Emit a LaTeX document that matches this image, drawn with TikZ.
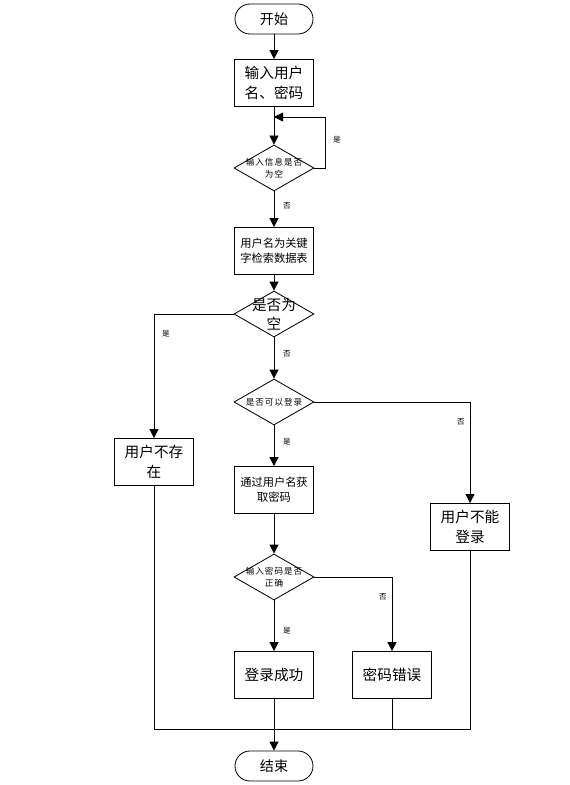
\documentclass[tikz,border=0pt]{standalone}
\usepackage{fontspec}
\setmainfont{Noto Sans CJK SC}
\usetikzlibrary{positioning,shapes,arrows.meta,calc}

\tikzset{
    startstop/.style={draw,rectangle,rounded corners=0.45cm,minimum width=2.34cm,minimum height=0.9cm,font=\fontsize{12}{14}\selectfont},
    process/.style={draw,rectangle,minimum width=2.37cm,minimum height=1.41cm,inner sep=1pt,align=center,font=\fontsize{12.5}{17}\selectfont},
    decision/.style={draw,diamond,minimum width=2.4cm,minimum height=1.38cm,inner sep=0pt},
    smalltext/.style={align=center,font=\fontsize{7.3}{10}\selectfont\addfontfeatures{LetterSpace=12}},
    yesno/.style={font=\fontsize{6.5}{7}\selectfont},
    arr/.style={-{Triangle[length=2.7mm,width=2.7mm]}},
}

\begin{document}
\begin{tikzpicture}[x=0.03cm,y=-0.03cm,line width=0.7pt]
    \useasboundingbox (0,0) rectangle (570,785);
    % main column
    \node[startstop] (start) at (274,19) {开始};
    \node[process] (input) at (274,83) {输入用户\\名、密码};
    \node[decision,label={[smalltext]center:输入信息是否\\为空}] (empty1) at (274,168) {};
    \node[process,font=\fontsize{9.6}{13}\selectfont] (search) at (274,251) {用户名为关键\\字检索数据表};
    \node[decision,label={[align=center,font=\fontsize{12.5}{16}\selectfont]center:是否为\\空}] (empty2) at (274,314) {};
    \node[decision,label={[smalltext]center:是否可以登录}] (canlogin) at (274,402) {};
    \node[process,font=\fontsize{9.6}{13}\selectfont] (getpw) at (274,490) {通过用户名获\\取密码};
    \node[decision,label={[smalltext]center:输入密码是否\\正确}] (checkpw) at (274,577) {};
    \node[process] (success) at (274,675) {登录成功};
    \node[startstop] (stop) at (274,766) {结束};
    % side boxes
    \node[process] (nouser) at (154,462) {用户不存\\在};
    \node[process] (cantlogin) at (470,527) {用户不能\\登录};
    \node[process] (wrongpw) at (392,675) {密码错误};

    \coordinate (loop) at (274,117);
    \coordinate (merge) at (274,729);

    \draw[arr] (start) -- (input);
    \draw[arr] (input) -- (empty1);
    \draw[arr] (empty1.east) -| (325,117) -- (loop);
    \node[yesno] (y1) at (337,140) {是};
    \draw[arr] (empty1) -- (search) node[yesno,pos=0.4,right=4pt] {否};
    \draw[arr] (search) -- (empty2);
    \draw[arr] (empty2.west) -| (nouser.north);
    \node[yesno] (y2) at (166,334) {是};
    \draw[arr] (empty2) -- (canlogin) node[yesno,pos=0.4,right=4pt] {否};
    \draw[arr] (canlogin.east) -| (cantlogin.north);
    \node[yesno] (n3) at (461,422) {否};
    \draw[arr] (canlogin) -- (getpw) node[yesno,pos=0.4,right=4pt] {是};
    \draw[arr] (getpw) -- (checkpw);
    \draw[arr] (checkpw.east) -| (wrongpw.north);
    \node[yesno] (n4) at (383,597) {否};
    \draw[arr] (checkpw) -- (success) node[yesno,pos=0.6,right=4pt] {是};
    % merge to end
    \draw (nouser.south) |- (cantlogin.south |- merge) -- (cantlogin.south);
    \draw (wrongpw.south) -- (wrongpw.south |- merge);
    \draw[arr] (success) -- (stop);
\end{tikzpicture}
\end{document}
